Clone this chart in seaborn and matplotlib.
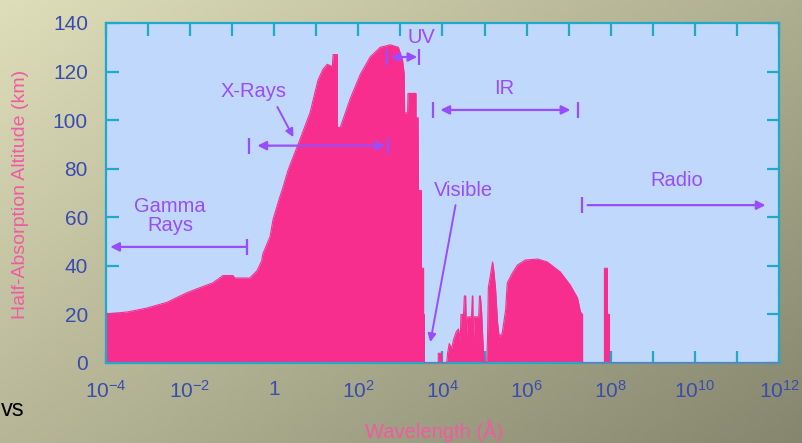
import numpy as np
import matplotlib
matplotlib.use("Agg")
import matplotlib.pyplot as plt
from matplotlib.ticker import FixedLocator, FuncFormatter, NullLocator
import seaborn as sns

sns.set_style("ticks")
plt.rcParams["font.family"] = ["Liberation Sans", "DejaVu Sans"]
plt.rcParams["mathtext.fontset"] = "custom"
plt.rcParams["mathtext.rm"] = "Liberation Sans"
plt.rcParams["mathtext.it"] = "Liberation Sans:italic"
plt.rcParams["mathtext.bf"] = "Liberation Sans:bold"

# Half-absorption altitude (km) against log10 of wavelength (Angstrom)
log_wavelength = [
    -4.00, -3.50, -3.03, -2.55, -2.07, -1.77, -1.46, -1.22, -0.98, -0.94,
    -0.58, -0.41, -0.30, -0.27, -0.10, -0.03, 0.09, 0.21, 0.33, 0.61,
    0.85, 1.04, 1.16, 1.26, 1.38, 1.40, 1.50, 1.50, 1.57, 1.81,
    2.05, 2.28, 2.52, 2.76, 2.95, 3.05, 3.09, 3.10, 3.17, 3.18,
    3.37, 3.37, 3.42, 3.43, 3.50, 3.50, 3.55, 3.55, 3.57, 3.57,
    3.90, 3.90, 3.98, 3.98, 4.10, 4.12, 4.16, 4.22, 4.26, 4.33,
    4.38, 4.42, 4.44, 4.50, 4.52, 4.55, 4.57, 4.60, 4.69, 4.71,
    4.72, 4.73, 4.76, 4.86, 4.88, 4.90, 4.93, 4.96, 4.99, 5.05,
    5.07, 5.09, 5.19, 5.21, 5.26, 5.31, 5.35, 5.42, 5.50, 5.54,
    5.66, 5.78, 5.97, 6.26, 6.49, 6.80, 7.04, 7.21, 7.28, 7.33,
    7.33, 7.85, 7.85, 7.92, 7.92, 7.97, 7.97, 12.00,
]
altitude_km = [
    20.2, 21.0, 22.6, 25.0, 29.0, 31.0, 33.0, 36.0, 36.0, 35.0,
    35.0, 38.0, 42.0, 45.0, 52.0, 59.0, 66.0, 72.5, 79.5, 92.0,
    103.0, 116.5, 121.0, 123.0, 122.0, 127.0, 127.0, 97.0, 97.0, 109.0,
    119.0, 126.0, 130.0, 131.0, 130.0, 124.7, 119.0, 103.0, 103.0, 111.0,
    111.0, 101.0, 101.0, 71.0, 71.0, 39.0, 39.0, 20.0, 20.0, 0.0,
    0.0, 4.0, 4.0, 0.0, 0.0, 4.0, 8.0, 6.0, 9.5, 13.0,
    14.0, 9.0, 20.0, 20.0, 27.6, 27.6, 11.0, 19.0, 19.0, 27.6,
    27.6, 8.0, 19.0, 19.0, 27.6, 27.6, 21.0, 9.5, 0.0, 0.0,
    10.0, 31.0, 41.6, 39.5, 31.0, 16.5, 10.7, 12.3, 21.8, 33.0,
    37.0, 40.3, 42.4, 42.8, 41.6, 37.5, 32.0, 26.8, 21.0, 20.0,
    0.0, 0.0, 39.0, 39.0, 20.0, 20.0, 0.0, 0.0,
]

# Spectral band labels and their positions (log10 wavelength, km)
band_labels = ["Gamma\nRays", "X-Rays", "UV", "Visible", "IR", "Radio"]
band_label_logx = [-2.48, -0.50, 3.50, 4.50, 5.47, 9.56]
band_label_km = [60.5, 111.6, 134.2, 71.0, 113.0, 75.0]

# Band extents: end bars, arrow tips and altitude of each range arrow
range_names = ["Gamma", "X-Rays", "UV", "IR", "Radio"]
range_bar_lo = [None, -0.59, 2.69, 3.78, 7.31]
range_bar_hi = [-0.64, 2.71, 3.45, 7.21, None]
range_tip_lo = [-3.90, -0.40, 2.76, 3.95, 7.45]
range_tip_hi = [-0.66, 2.64, 3.40, 7.04, 11.68]
range_heads = ["<|-", "<|-|>", "<|-|>", "<|-|>", "-|>"]
range_km = [47.8, 89.5, 126.0, 104.2, 65.0]

# Pointer arrows from a label to its band
pointer_from_logx = [0.075, 4.31]
pointer_from_km = [105.4, 65.0]
pointer_to_logx = [0.455, 3.71]
pointer_to_km = [93.0, 8.6]

tick_exponents = list(range(-4, 13))
ytick_values = [0, 20, 40, 60, 80, 100, 120, 140]

PINK = "#f72e8e"
SKY = "#c0d8fc"
CYAN = "#1eaac8"
PURPLE = "#9a4cff"
TICKBLUE = "#3a4cae"
LABELPINK = "#f25aa2"

W, H = 803, 443
fig = plt.figure(figsize=(W / 100, H / 100), dpi=100)

# Diagonal khaki gradient behind everything
bg = fig.add_axes([0, 0, 1, 1], zorder=-10)
gx, gy = np.meshgrid(np.linspace(0, 1, 200), np.linspace(0, 1, 120))
t = (0.55 * gx + 0.45 * gy)
c0 = np.array([222, 222, 186]) / 255.0
c1 = np.array([134, 134, 110]) / 255.0
grad = c0[None, None, :] + (c1 - c0)[None, None, :] * t[:, :, None]
bg.imshow(grad, aspect="auto", extent=[0, 1, 0, 1], origin="upper")
bg.set_axis_off()

ax = fig.add_axes([106 / W, 80 / H, 673 / W, 340 / H])
ax.set_facecolor(SKY)

wavelength = 10.0 ** np.array(log_wavelength)
alt = np.array(altitude_km)
ax.fill_between(wavelength, alt, 0, color=PINK, linewidth=0, zorder=2)
sns.lineplot(x=wavelength, y=alt, ax=ax, sort=False, estimator=None,
             color=PINK, linewidth=0.8, zorder=3)

ax.set_xscale("log")
ax.set_xlim(1e-4, 1e12)
ax.set_ylim(0, 140)

ax.xaxis.set_major_locator(FixedLocator([10.0 ** e for e in tick_exponents]))
ax.xaxis.set_minor_locator(NullLocator())


def fmt_decade(v, pos):
    e = int(round(np.log10(v)))
    if e % 2:
        return ""
    if e == 0:
        return "1"
    return r"$10^{%d}$" % e


ax.xaxis.set_major_formatter(FuncFormatter(fmt_decade))
ax.set_yticks(ytick_values)

for s in ax.spines.values():
    s.set_color(CYAN)
    s.set_linewidth(1.6)
ax.tick_params(axis="both", which="both", direction="in", length=9, width=1.6,
               color=CYAN, top=True, right=True, labelsize=15,
               labelcolor=TICKBLUE)
ax.tick_params(axis="x", pad=12)
ax.tick_params(axis="y", pad=13)

# Band range arrows with end bars
for i in range(len(range_names)):
    y = range_km[i]
    ax.annotate("", xy=(10.0 ** range_tip_hi[i], y),
                xytext=(10.0 ** range_tip_lo[i], y),
                arrowprops=dict(arrowstyle=range_heads[i], color=PURPLE, lw=1.6,
                                mutation_scale=13, shrinkA=0, shrinkB=0),
                zorder=5)
    for b in (range_bar_lo[i], range_bar_hi[i]):
        if b is not None:
            ax.plot([10.0 ** b], [y], marker="|", markersize=12, mew=1.6,
                    color=PURPLE, zorder=5)

# Pointer arrows
for i in range(len(pointer_from_logx)):
    ax.annotate("", xy=(10.0 ** pointer_to_logx[i], pointer_to_km[i]),
                xytext=(10.0 ** pointer_from_logx[i], pointer_from_km[i]),
                arrowprops=dict(arrowstyle="-|>", color=PURPLE, lw=1.4,
                                mutation_scale=12, shrinkA=0, shrinkB=0),
                zorder=5)

for lab, lx, ly in zip(band_labels, band_label_logx, band_label_km):
    ax.text(10.0 ** lx, ly, lab, color=PURPLE, fontsize=14.5, ha="center",
            va="center", linespacing=1.05, zorder=6)

fig.text(21 / W, 1 - 194 / H, "Half-Absorption Altitude (km)", rotation=90,
         ha="center", va="center", color=LABELPINK, fontsize=14)
fig.text(434 / W, 1 - 431 / H, "Wavelength (Å)", ha="center", va="center",
         color=LABELPINK, fontsize=14.5)
fig.text(1 / W, 1 - 410 / H, "vs", ha="left", va="center", color="black",
         fontsize=17)

fig.savefig("out.png", dpi=100)
